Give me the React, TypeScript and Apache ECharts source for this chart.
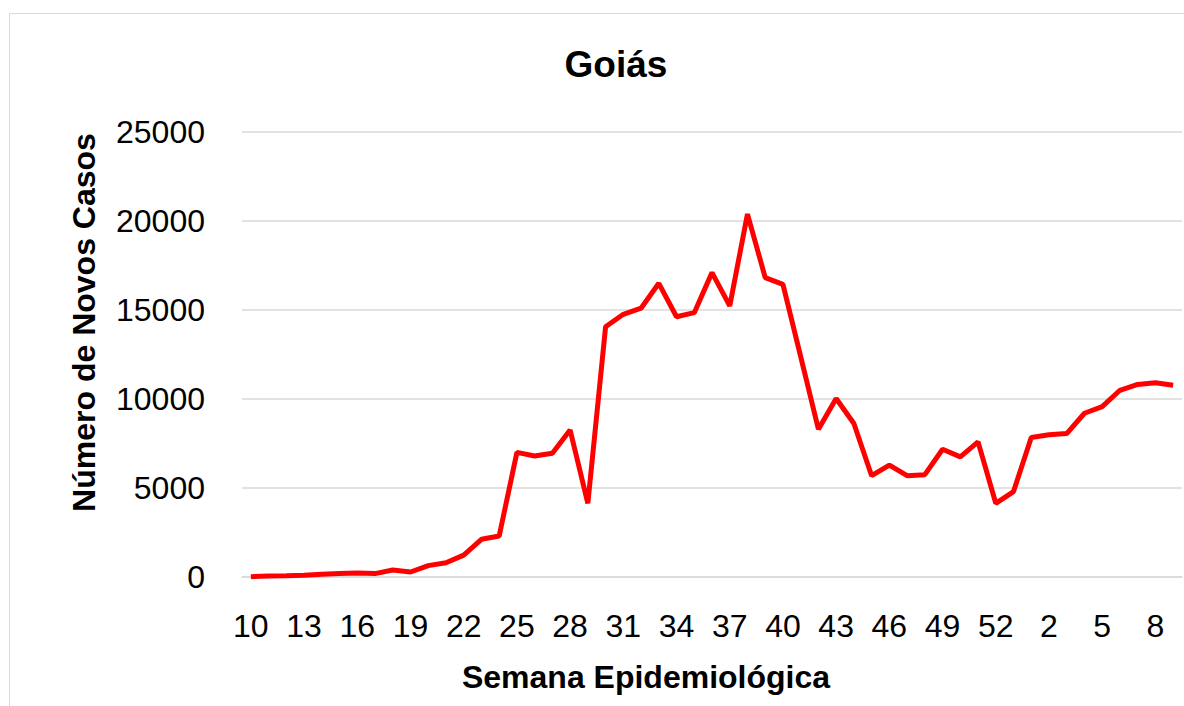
import React, { useEffect, useRef } from "react";
import * as echarts from "echarts";

const weeks: string[] = [
  "10","11","12","13","14","15","16","17","18","19","20","21","22","23","24","25","26","27","28","29",
  "30","31","32","33","34","35","36","37","38","39","40","41","42","43","44","45","46","47","48","49",
  "50","51","52","53","1","2","3","4","5","6","7","8","9",
];

const newCases: number[] = [
  20, 50, 70, 100, 150, 190, 220, 190, 390, 280, 640, 800, 1230, 2120, 2300, 7000, 6800, 6950, 8260, 4140,
  14060, 14760, 15100, 16500, 14620, 14850, 17100, 15230, 20390, 16820, 16440, 12380, 8300, 10030, 8620, 5690, 6290, 5690, 5750, 7180,
  6750, 7590, 4140, 4800, 7840, 7990, 8060, 9200, 9570, 10490, 10820, 10910, 10770,
];

const yTicks = { min: 0, max: 25000, interval: 5000 };

export default function App() {
  const ref = useRef<HTMLDivElement>(null);
  useEffect(() => {
    document.body.style.margin = "0";
    if (!ref.current) return;
    const chart = echarts.init(ref.current, null, { renderer: "svg" });
    const font = "Liberation Sans, Arial, sans-serif";
    chart.setOption({
      animation: false,
      backgroundColor: "#ffffff",
      title: {
        text: "Goiás",
        left: 611,
        top: 41,
        textAlign: "center",
        textStyle: { fontFamily: font, fontSize: 37, fontWeight: "bold", color: "#000" },
      },
      graphic: [
        {
          type: "rect",
          shape: { x: 9.5, y: 13.5, width: 1300, height: 800 },
          style: { fill: "none", stroke: "#d9d9d9", lineWidth: 1 },
          silent: true,
        },
      ],
      grid: { left: 242, right: 2, top: 132, bottom: 706 - 577 },
      xAxis: {
        type: "category",
        data: weeks,
        boundaryGap: true,
        name: "Semana Epidemiológica",
        nameLocation: "middle",
        nameGap: 84,
        nameTextStyle: {
          fontFamily: font,
          fontSize: 32,
          fontWeight: "bold",
          color: "#000",
          padding: [0, 132, 0, 0],
        },
        axisLine: { show: true, lineStyle: { color: "#d9d9d9", width: 1.5 } },
        axisTick: { show: false },
        axisLabel: {
          interval: 2,
          fontFamily: font,
          fontSize: 32,
          color: "#000",
          margin: 33,
        },
        splitLine: { show: false },
      },
      yAxis: {
        type: "value",
        min: yTicks.min,
        max: yTicks.max,
        interval: yTicks.interval,
        name: "Número de Novos Casos",
        nameLocation: "middle",
        nameGap: 142,
        nameTextStyle: {
          fontFamily: font,
          fontSize: 32,
          fontWeight: "bold",
          color: "#000",
          padding: [0, 0, 0, 64],
        },
        axisLine: { show: false },
        axisTick: { show: false },
        axisLabel: {
          fontFamily: font,
          fontSize: 32,
          color: "#000",
          margin: 37,
          formatter: (v: number) => String(v),
        },
        splitLine: { show: true, lineStyle: { color: "#d9d9d9", width: 1.5 } },
      },
      series: [
        {
          type: "line",
          data: newCases,
          symbol: "none",
          lineStyle: { color: "#ff0000", width: 5 },
          itemStyle: { color: "#ff0000" },
        },
      ],
    });
    return () => chart.dispose();
  }, []);
  return <div ref={ref} style={{ width: 1184, height: 706 }} />;
}
